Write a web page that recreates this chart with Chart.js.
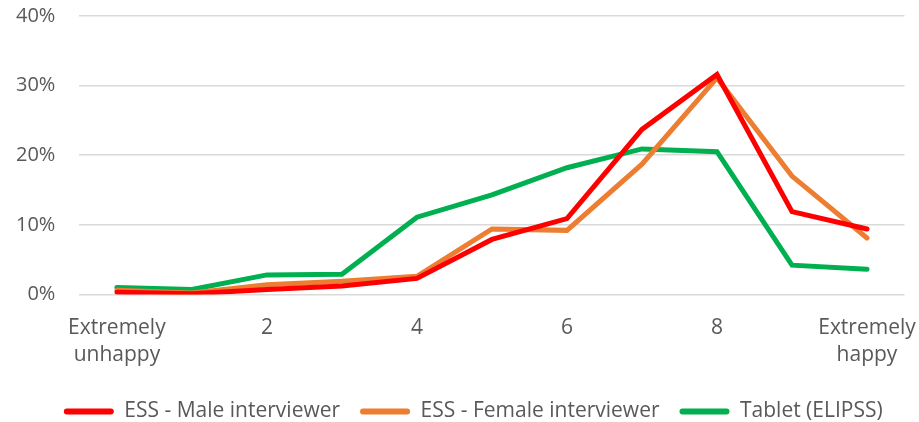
<!DOCTYPE html>
<html><head><meta charset="utf-8">
<script src="https://cdn.jsdelivr.net/npm/chart.js@4"></script>
<style>html,body{margin:0;padding:0;background:#fff}#wrap{width:919px;height:422px}</style>
</head><body><div id="wrap"><canvas id="c"></canvas></div>
<script>
const categories = [['Extremely','unhappy'], '', '2', '', '4', '', '6', '', '8', '', ['Extremely','happy']];
const maleInterviewer = [0.3, 0.1, 0.7, 1.2, 2.3, 7.9, 10.9, 23.7, 31.6, 11.9, 9.4];
const femaleInterviewer = [0.6, 0.2, 1.4, 1.9, 2.6, 9.4, 9.2, 18.7, 31.1, 17.0, 8.1];
const tabletElipss = [1.0, 0.7, 2.8, 2.9, 11.1, 14.3, 18.2, 20.9, 20.5, 4.2, 3.6];
const seriesNames = ['ESS - Male interviewer', 'ESS - Female interviewer', 'Tablet (ELIPSS)'];
const yTicks = [0, 10, 20, 30, 40];

const FONT = "'Open Sans', sans-serif";
const colors = ['#FF0000', '#ED7D31', '#00B050'];
const series = [maleInterviewer, femaleInterviewer, tabletElipss];

const legendShift = {
  id: 'legendShift',
  afterLayout(chart) {
    const lg = chart.legend;
    if (lg) { lg.left += 25; lg.right += 25; }
  }
};

new Chart(document.getElementById('c'), {
  type: 'line',
  plugins: [legendShift],
  data: {
    labels: categories,
    datasets: series.map((d, i) => ({
      label: seriesNames[i], data: d,
      borderColor: colors[i], backgroundColor: colors[i],
      borderWidth: 5, pointRadius: 0, tension: 0,
      borderCapStyle: 'round', borderJoinStyle: 'miter'
    }))
  },
  options: {
    responsive: true, maintainAspectRatio: false, animation: false,
    layout: { padding: { top: 0, right: 14.5, left: -8, bottom: -10 } },
    plugins: {
      tooltip: { enabled: false },
      legend: {
        position: 'bottom',
        labels: {
          font: { family: FONT, size: 21 }, color: '#595959',
          boxWidth: 50, boxHeight: 6, padding: 20, useBorderRadius: true,
          generateLabels: (chart) => chart.data.datasets.map((ds, i) => ({
            text: ds.label, fillStyle: ds.borderColor, strokeStyle: ds.borderColor,
            lineWidth: 0, fontColor: '#595959', datasetIndex: i, hidden: false,
            borderRadius: 3
          }))
        }
      }
    },
    scales: {
      x: {
        offset: true,
        grid: { display: false },
        border: { display: false },
        afterFit: (s) => { s.paddingRight = 0; s.paddingLeft = 0; },
        ticks: { autoSkip: false, maxRotation: 0, color: '#595959', font: { family: FONT, size: 21, lineHeight: 1.3 }, padding: 12 }
      },
      y: {
        min: 0, max: 40,
        afterBuildTicks: (ax) => { ax.ticks = yTicks.map(v => ({ value: v })); },
        afterFit: (s) => { s.paddingTop = 16; s.paddingBottom = 0; },
        grid: { color: '#D9D9D9', lineWidth: 1.5, drawTicks: false },
        border: { display: false },
        ticks: { color: '#595959', font: { family: FONT, size: 20 }, padding: 24, callback: v => v + '%' }
      }
    }
  }
});
</script></body></html>
